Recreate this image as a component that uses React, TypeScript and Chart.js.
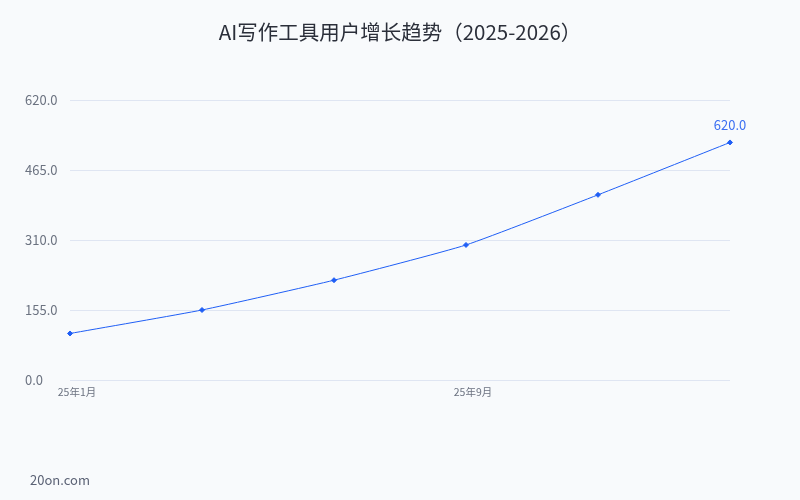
import React, { useEffect, useRef } from "react";
import { Chart, registerables } from "chart.js";

Chart.register(...registerables);

const categories = ["25年1月", "25年3月", "25年6月", "25年9月", "25年12月", "26年3月"];
const users = [103, 155, 221, 299, 410, 526];
const yTicks = [0, 155, 310, 465, 620];
const lastPointLabel = "620.0";
const titleText = "AI写作工具用户增长趋势（2025-2026）";
const watermark = "20on.com";

const FONT = '"Noto Sans CJK SC", "Noto Sans", sans-serif';
const LINE = "#1f5ef5";

export default function App() {
  const ref = useRef<HTMLCanvasElement | null>(null);

  useEffect(() => {
    if (!ref.current) return;
    const textPlugin = {
      id: "texts",
      afterDraw(chart: any) {
        const ctx = chart.ctx;
        ctx.save();
        ctx.font = `20.5px ${FONT}`;
        ctx.fillStyle = "#2b2f3a";
        ctx.textAlign = "center";
        ctx.textBaseline = "middle";
        ctx.fillText(titleText, chart.width / 2, 32);
        ctx.restore();
      },
      afterDatasetsDraw(chart: any) {
        const meta = chart.getDatasetMeta(0);
        const pt = meta.data[meta.data.length - 1];
        if (!pt) return;
        const ctx = chart.ctx;
        ctx.save();
        ctx.font = `13px ${FONT}`;
        ctx.fillStyle = "#3b6ff2";
        ctx.textAlign = "center";
        ctx.textBaseline = "middle";
        ctx.fillText(lastPointLabel, pt.x, pt.y - 17);
        ctx.restore();
      },
    };
    const chart = new Chart(ref.current, {
      type: "line",
      data: {
        labels: categories,
        datasets: [
          {
            data: users,
            borderColor: LINE,
            backgroundColor: LINE,
            borderWidth: 1,
            pointStyle: "rectRot",
            pointRadius: 2.5,
            pointHoverRadius: 3,
            tension: 0.15,
            fill: false,
          },
        ],
      },
      options: {
        responsive: false,
        animation: false,
        layout: { padding: { left: 25, right: 70, top: 100, bottom: 100 } },
        plugins: {
          legend: { display: false },
          tooltip: { enabled: false },
          title: { display: false },
        },
        scales: {
          x: {
            offset: false,
            grid: { display: false, drawTicks: false },
            border: { display: false },
            ticks: {
              autoSkip: false,
              maxRotation: 0,
              padding: 6,
              labelOffset: 7,
              color: "#6b7280",
              font: { family: FONT, size: 10.5 },
              callback: (_v: any, i: number) => (i % 3 === 0 ? categories[i] : ""),
            },
            afterFit: (s: any) => {
              s.height = 20;
            },
          },
          y: {
            min: 0,
            max: 620,
            afterBuildTicks: (s: any) => {
              s.ticks = yTicks.map((v) => ({ value: v }));
            },
            grid: { color: "#dfe5f2", drawTicks: false, lineWidth: 1 },
            border: { display: false },
            ticks: {
              crossAlign: "far",
              color: "#6b7280",
              font: { family: FONT, size: 13 },
              callback: (v: any) => Number(v).toFixed(1),
            },
            afterFit: (s: any) => {
              s.width = 45;
            },
          },
        },
      },
      plugins: [textPlugin],
    } as any);
    return () => chart.destroy();
  }, []);

  return (
    <div
      style={{
        position: "fixed",
        left: 0,
        top: 0,
        width: 800,
        height: 500,
        background: "#f8fafc",
      }}
    >
      <canvas ref={ref} width={800} height={500} style={{ width: 800, height: 500, display: "block" }} />
      <div
        style={{
          position: "absolute",
          left: 30,
          top: 471,
          fontFamily: FONT,
          fontSize: 13,
          lineHeight: "18px",
          color: "#5b6275",
        }}
      >
        {watermark}
      </div>
    </div>
  );
}
